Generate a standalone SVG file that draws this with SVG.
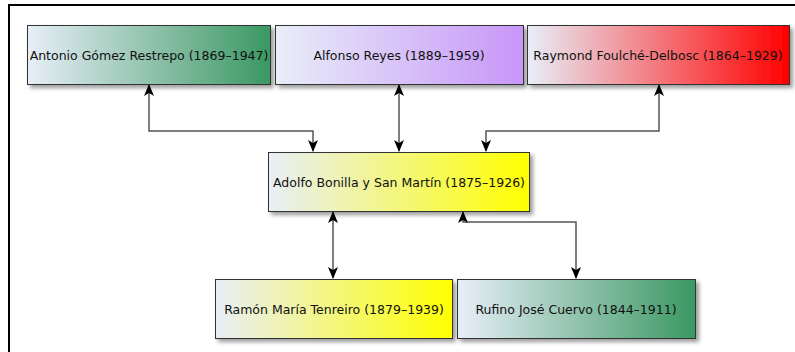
<svg xmlns="http://www.w3.org/2000/svg" width="795" height="352" viewBox="0 0 795 352">
<style>
.box{stroke:#333;stroke-width:1;filter:url(#sh)}
.lbl{font-family:"DejaVu Sans",sans-serif;font-size:12.5px;fill:#111;text-anchor:middle;dominant-baseline:central}
.con{fill:none;stroke:#555;stroke-width:1.5;marker-start:url(#ah);marker-end:url(#ah)}
</style>
<defs>
<linearGradient id="gGreen" x1="0" y1="0" x2="1" y2="0"><stop offset="0" stop-color="#e8eef8"/><stop offset="1" stop-color="#3a9862"/></linearGradient>
<linearGradient id="gPurple" x1="0" y1="0" x2="1" y2="0"><stop offset="0" stop-color="#e8eef8"/><stop offset="1" stop-color="#c896f8"/></linearGradient>
<linearGradient id="gRed" x1="0" y1="0" x2="1" y2="0"><stop offset="0" stop-color="#e8eef8"/><stop offset="1" stop-color="#ff0000"/></linearGradient>
<linearGradient id="gYellow" x1="0" y1="0" x2="1" y2="0"><stop offset="0" stop-color="#e8eef8"/><stop offset="1" stop-color="#ffff00"/></linearGradient>
<filter id="sh" x="-10%" y="-20%" width="125%" height="150%">
<feGaussianBlur in="SourceAlpha" stdDeviation="2"/>
<feOffset dx="3" dy="3" result="b"/>
<feComponentTransfer><feFuncA type="linear" slope="0.4"/></feComponentTransfer>
<feMerge><feMergeNode/><feMergeNode in="SourceGraphic"/></feMerge>
</filter>
<marker id="ah" viewBox="0 0 12 12" refX="11" refY="6" markerWidth="12" markerHeight="12" markerUnits="userSpaceOnUse" orient="auto-start-reverse">
<path d="M0,1 L12,6 L0,11 L3,6 Z" fill="#000"/>
</marker>
</defs>
<rect x="0" y="0" width="795" height="352" fill="#fff"/>
<path d="M9,352 V5 H800" fill="none" stroke="#000" stroke-width="2"/>
<g id="connectors">
<path class="con" d="M149,85 V131 H313 V151"/>
<path class="con" d="M399,85 V151"/>
<path class="con" d="M659,85 V131 H486 V151"/>
<path class="con" d="M333,212 V278"/>
<path class="con" d="M463,212 V222 H576 V278"/>
</g>
<g id="n1"><rect class="box" x="27.5" y="25.5" width="243" height="59" fill="url(#gGreen)"/><text class="lbl" x="149" y="55">Antonio Gómez Restrepo (1869–1947)</text></g>
<g id="n2"><rect class="box" x="275.5" y="25.5" width="248" height="59" fill="url(#gPurple)"/><text class="lbl" x="399" y="55">Alfonso Reyes (1889–1959)</text></g>
<g id="n3"><rect class="box" x="527.5" y="25.5" width="262" height="59" fill="url(#gRed)"/><text class="lbl" x="658" y="55">Raymond Foulché-Delbosc (1864–1929)</text></g>
<g id="n4"><rect class="box" x="268.5" y="152.5" width="261" height="59" fill="url(#gYellow)"/><text class="lbl" x="399" y="182">Adolfo Bonilla y San Martín (1875–1926)</text></g>
<g id="n5"><rect class="box" x="215.5" y="279.5" width="237" height="59" fill="url(#gYellow)"/><text class="lbl" x="334" y="309">Ramón María Tenreiro (1879–1939)</text></g>
<g id="n6"><rect class="box" x="457.5" y="279.5" width="238" height="59" fill="url(#gGreen)"/><text class="lbl" x="576" y="309">Rufino José Cuervo (1844–1911)</text></g>
</svg>
